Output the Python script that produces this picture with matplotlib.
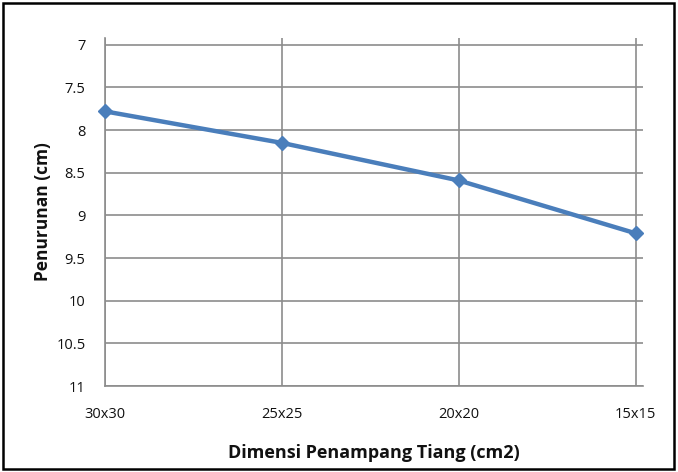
import matplotlib
matplotlib.use("Agg")
from matplotlib import pyplot as plt
from matplotlib.patches import Rectangle

# settlement vs pile cross-section
sizes = ["30x30", "25x25", "20x20", "15x15"]
settlement = [7.78, 8.15, 8.59, 9.21]
y_ticks = [7, 7.5, 8, 8.5, 9, 9.5, 10, 10.5, 11]
y_tick_labels = ["7", "7.5", "8", "8.5", "9", "9.5", "10", "10.5", "11"]

plt.rcParams["font.family"] = ["Open Sans", "DejaVu Sans"]

fig = plt.figure(figsize=(6.78, 4.72), dpi=100)
ax = fig.add_axes([0.1549, 0.1822, 0.7931, 0.7373])

x = list(range(len(sizes)))
ax.plot(x, settlement, color="#4A7EBB", lw=3.2, marker="D", ms=7,
        solid_capstyle="round", zorder=3, clip_on=False)

ax.set_xlim(0, 3.04)
ax.set_ylim(11, 6.92)
ax.set_xticks(x)
ax.set_xticklabels(sizes, fontsize=10.5)
ax.set_yticks(y_ticks)
ax.set_yticklabels(y_tick_labels, fontsize=10.5)
ax.tick_params(axis="both", length=0, colors="#111111")
ax.tick_params(axis="x", pad=15)
ax.tick_params(axis="y", pad=14)

ax.grid(True, color="#8c8c8c", lw=1.2)
ax.set_axisbelow(True)
for side in ["top", "right"]:
    ax.spines[side].set_visible(False)
for side in ["left", "bottom"]:
    ax.spines[side].set_color("#8c8c8c")
    ax.spines[side].set_linewidth(1.2)

ax.set_xlabel("Dimensi Penampang Tiang (cm2)", fontsize=13, fontweight="bold",
              labelpad=16, color="#111111")
ax.set_ylabel("Penurunan (cm)", fontsize=12.5, fontweight="bold", labelpad=3,
              color="#111111")

# outer frame
fig.patches.append(Rectangle((3 / 678, 3 / 472), 671 / 678, 466 / 472,
                             transform=fig.transFigure, fill=False,
                             edgecolor="black", lw=1.8))

fig.savefig("out.png", dpi=100)
